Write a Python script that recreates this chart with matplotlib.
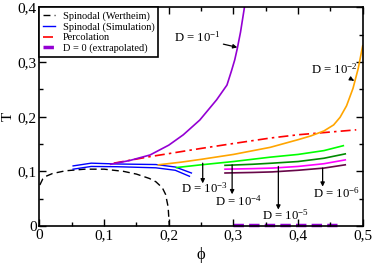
import numpy as np
import matplotlib
matplotlib.use('Agg')
import matplotlib.pyplot as plt
from matplotlib.ticker import MultipleLocator, FuncFormatter

plt.rcParams['font.family'] = ['Liberation Serif', 'DejaVu Serif']
plt.rcParams['mathtext.fontset'] = 'stix'

# Spinodal from Wertheim theory
phi_wert = [0.0005, 0.005, 0.01, 0.02, 0.04, 0.07, 0.10, 0.13, 0.15, 0.17, 0.18, 0.19, 0.195, 0.199, 0.2008]
T_wert = [0.075, 0.086, 0.091, 0.096, 0.101, 0.104, 0.104, 0.100, 0.095, 0.087, 0.081, 0.070, 0.058, 0.035, 0.0]

# Spinodal from simulation (two branches)
phi_sim_up = [0.052, 0.08, 0.12, 0.18, 0.21, 0.235]
T_sim_up = [0.110, 0.115, 0.1135, 0.1125, 0.108, 0.097]
phi_sim_dn = [0.052, 0.08, 0.12, 0.18, 0.21, 0.232]
T_sim_dn = [0.104, 0.109, 0.1085, 0.1065, 0.102, 0.091]

# Percolation line
phi_perc = [0.115, 0.171, 0.25, 0.30, 0.357, 0.40, 0.45, 0.49]
T_perc = [0.115, 0.127, 0.142, 0.151, 0.161, 0.167, 0.172, 0.176]

# D = 0 (extrapolated)
phi_d0 = [0.30, 0.46]
T_d0 = [0.002, 0.002]

# curves for each D
phi_d1 = [0.11, 0.14, 0.171, 0.20, 0.2225, 0.248, 0.274, 0.29, 0.297, 0.302, 0.306, 0.311, 0.317]
T_d1 = [0.113, 0.120, 0.130, 0.148, 0.167, 0.194, 0.231, 0.258, 0.284, 0.304, 0.325, 0.355, 0.40]
phi_d2 = [0.184, 0.22, 0.25, 0.30, 0.357, 0.40, 0.42, 0.44, 0.455, 0.465, 0.475, 0.485, 0.493, 0.50]
T_d2 = [0.112, 0.117, 0.122, 0.131, 0.144, 0.158, 0.165, 0.174, 0.185, 0.199, 0.220, 0.252, 0.288, 0.33]
phi_d3 = [0.212, 0.25, 0.30, 0.357, 0.40, 0.44, 0.47]
T_d3 = [0.107, 0.112, 0.118, 0.126, 0.131, 0.138, 0.147]
phi_d456 = [0.287, 0.33, 0.36, 0.40, 0.44, 0.473]
T_d4 = [0.111, 0.113, 0.115, 0.118, 0.124, 0.132]
T_d5 = [0.104, 0.105, 0.106, 0.109, 0.114, 0.121]
T_d6 = [0.097, 0.098, 0.099, 0.102, 0.106, 0.112]

fig = plt.figure(figsize=(3.74, 2.64), dpi=100)
ax = fig.add_axes([0.1056, 0.144, 0.8642, 0.8276])

ax.plot(phi_wert, T_wert, color='k', ls=(0, (5, 3)), lw=1.0, label='Spinodal (Wertheim)')
ax.plot(phi_sim_up, T_sim_up, color='#0000ff', lw=1.0, label='Spinodal (Simulation)')
ax.plot(phi_sim_dn, T_sim_dn, color='#0000ff', lw=1.0)
ax.plot(phi_perc, T_perc, color='#ff0000', ls=(0, (6, 2.5, 1.5, 2.5)), lw=1.2, label='Percolation')
ax.plot(phi_d0, T_d0, color='#9400d3', ls=(0, (3, 1.5)), lw=2.5, label='D = 0 (extrapolated)',
        clip_on=False, zorder=1)

ax.plot(phi_d1, T_d1, color='#9400d3', lw=1.2)
ax.plot(phi_d2, T_d2, color='#ffa500', lw=1.2)
ax.plot(phi_d3, T_d3, color='#00ff00', lw=1.2)
ax.plot(phi_d456, T_d4, color='#008b00', lw=1.2)
ax.plot(phi_d456, T_d5, color='#ff00ff', lw=1.2)
ax.plot(phi_d456, T_d6, color='#670748', lw=1.2)

ap = dict(arrowstyle='-|>', color='k', lw=0.9, mutation_scale=6, shrinkA=0, shrinkB=0)
fs = 9.2
ax.annotate(r'D = 10$^{\mathregular{-1}}$', xy=(0.306, 0.327), xytext=(0.244, 0.344),
            ha='center', va='center', fontsize=fs, arrowprops=ap)
ax.annotate(r'D = 10$^{\mathregular{-2}}$', xy=(0.4865, 0.266), xytext=(0.456, 0.286),
            ha='center', va='center', fontsize=fs, arrowprops=ap)
ax.annotate('', xy=(0.2525, 0.078), xytext=(0.2525, 0.115), arrowprops=ap)
ax.text(0.2545, 0.068, r'D = 10$^{\mathregular{-3}}$', ha='center', va='center', fontsize=fs)
ax.annotate('', xy=(0.298, 0.058), xytext=(0.298, 0.112), arrowprops=ap)
ax.text(0.308, 0.043, r'D = 10$^{\mathregular{-4}}$', ha='center', va='center', fontsize=fs)
ax.annotate('', xy=(0.3695, 0.030), xytext=(0.3695, 0.109), arrowprops=ap)
ax.text(0.38, 0.019, r'D = 10$^{\mathregular{-5}}$', ha='center', va='center', fontsize=fs)
ax.annotate('', xy=(0.438, 0.072), xytext=(0.438, 0.106), arrowprops=ap)
ax.text(0.459, 0.059, r'D = 10$^{\mathregular{-6}}$', ha='center', va='center', fontsize=fs)

ax.set_xlim(0, 0.5)
ax.set_ylim(0, 0.4)
ax.xaxis.set_major_locator(MultipleLocator(0.1))
ax.xaxis.set_minor_locator(MultipleLocator(0.05))
ax.yaxis.set_major_locator(MultipleLocator(0.1))
ax.yaxis.set_minor_locator(MultipleLocator(0.05))
fmt = FuncFormatter(lambda v, p: '0' if abs(v) < 1e-9 else f'{v:.1f}'.replace('.', ','))
ax.xaxis.set_major_formatter(fmt)
ax.yaxis.set_major_formatter(fmt)
ax.tick_params(which='both', direction='in', top=True, right=True, labelsize=11, pad=2)
ax.tick_params(which='major', length=5, width=1)
ax.tick_params(which='minor', length=3, width=1)
for s in ax.spines.values():
    s.set_linewidth(1.2)

ax.set_xlabel(r'$\mathregular{\phi}$', fontsize=12, labelpad=2)
ax.set_ylabel('T', fontsize=11, labelpad=2)

leg = ax.legend(loc='upper left', fontsize=7.5, handlelength=1.1, handletextpad=0.8,
                borderaxespad=0, borderpad=0.35, labelspacing=0.12, fancybox=False, framealpha=1)
leg.get_frame().set_edgecolor('k')
leg.get_frame().set_linewidth(1.2)

fig.savefig('out.png', dpi=100)
